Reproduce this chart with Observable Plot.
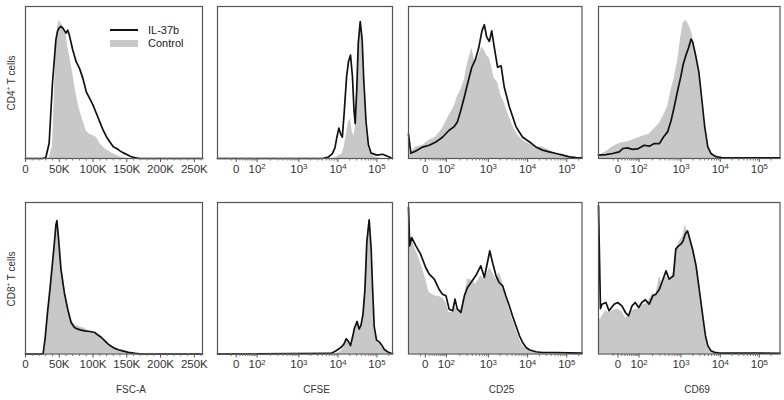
<!DOCTYPE html>
<html><head><meta charset="utf-8">
<script src="https://cdn.jsdelivr.net/npm/d3@7"></script>
<script src="https://cdn.jsdelivr.net/npm/@observablehq/plot@0.6"></script>
<style>
body{margin:0;background:#fff;}
#fig{position:relative;width:784px;height:400px;font-family:"Liberation Sans",Arial,sans-serif;color:#333;overflow:hidden;background:#fff}
.panel{position:absolute}
.lab{position:absolute;font-size:10px;white-space:nowrap;transform:translate(-50%,-50%);line-height:1}
.ylab{position:absolute;font-size:10px;white-space:nowrap;transform:translate(-50%,-50%) rotate(-90deg);line-height:1}
sup{font-size:6.5px;vertical-align:4px;line-height:0}
</style></head><body><div id="fig"></div>
<script>
// ---------- data (x in K for FSC-A, in display decades for fluorescence) ----------
const fscX4 = [0,25,30,35,40,45,47.5,50,52.5,55,60,62.5,65,70,75,80,85,90,95,100,105,110,115,120,125,130,135,140,145,150,155,160,165,170,262.144];
const fscIL4 = [0,0,0.5,10,50,78,84,86,87,86,82.5,84.5,81,71.4,63.7,59.3,52.7,43.9,39.5,35.1,29.6,24.1,18.6,14.2,10.9,7.7,6.6,5.0,3.7,2.6,1.5,0.7,0.2,0,0];
const fscCtrl4 = [0,0,0,0,8,71,86,91,89,87,82,74,68,56,42,32,25,18,16,15,14,10,7.5,5.5,4.5,3,2,1.2,0.5,0,0,0,0,0,0];

const fscX8 = [0,26,29,32.5,36.5,40,42.5,45,46.5,49,52.5,57.5,62.5,67.5,72.5,77.5,82.5,87.5,92.5,97.5,102.5,107.5,112.5,117.5,122.5,127.5,132.5,137.5,142.5,152.5,162.5,172.5,262.144];
const fscIL8 = [0,0,10,27,44,60.4,72,85,88,75.8,56,40.6,29.6,20.8,17.5,16.4,15.8,15.3,15,14.7,14.2,12.5,10.9,8.7,6.5,5,3.7,2.8,2.2,1.1,0.4,0,0];
const fscCtrl8 = [0,0,3,20,40,58,70,84,88,78,60,44,32,23,19.5,18.5,17.5,17,15.5,14.7,14,12.5,10.5,8.5,6.5,5,3.7,2.8,2,1,0.3,0,0];

const cfseX4 = [0.9,3.6,3.75,3.85,3.92,3.97,4.02,4.07,4.11,4.16,4.22,4.27,4.32,4.37,4.41,4.44,4.48,4.52,4.57,4.62,4.66,4.72,4.78,4.85,5.0,5.15,5.3,5.4];
const cfseIL4 = [0,0,1,3,7,14,20,16,14,31,54,64,68,54,32,23,45,76,90,78,52,24,9,3.5,2.2,2.8,1.2,0];
const cfseCtrl4 = [0,0,0,0,0.5,1,2,2.5,3.5,8,17,24,26,17,15,20,40,70,89,74,48,20,7,2.5,0.5,0,0,0];

const cfseX8 = [0.9,3.82,3.95,4.08,4.15,4.21,4.26,4.32,4.38,4.42,4.49,4.54,4.59,4.64,4.69,4.74,4.80,4.85,4.89,4.93,4.99,5.06,5.12,5.19,5.27,5.36,5.4];
const cfseIL8 = [0,0.4,2.2,4.4,6.5,10,8.5,5.5,12,17,21.5,16.5,19,26,42,74,88.6,70,42,18,9,8,6,3,1.5,0.5,0.3];
const cfseCtrl8 = [0,0,0,2,4,9,7,4.5,10,15,20,16,18,25,40,72,88,69,40,16,8,7,5,2,0.5,0,0];

const cd25X4 = [0.95,1.01,1.14,1.31,1.48,1.65,1.82,1.99,2.12,2.20,2.29,2.38,2.46,2.57,2.66,2.74,2.83,2.89,2.95,3.02,3.08,3.14,3.23,3.32,3.40,3.53,3.70,3.87,4.04,4.21,4.38,4.55,4.73,4.90,5.07,5.24,5.39];
const cd25IL4 = [16,3.5,5,7.5,8.7,10.9,14,18.6,21,24,31.8,40.6,49,60,65,72,84,88,80,77,84,74,60,61,47,34,21,14,11,7.6,5.5,4.4,3.3,2.2,1.1,0.6,0.5];
const cd25Ctrl4 = [3,4,7.6,8.7,12,14.2,19.7,28.5,34,40.6,45,51.6,62.6,72.5,62.6,67,73.6,71,68,66,60,53,50,41,37,27,17,12,9.4,7.6,7.6,5.5,3,2.2,1.2,0.5,0];

const cd25X8 = [0.95,0.98,1.03,1.14,1.26,1.39,1.48,1.61,1.73,1.82,1.91,1.99,2.08,2.14,2.20,2.29,2.38,2.46,2.55,2.67,2.80,2.89,2.97,3.03,3.10,3.19,3.27,3.36,3.44,3.53,3.61,3.70,3.79,3.87,3.96,4.04,4.21,4.38,4.73,5.07,5.39];
const cd25IL8 = [96.7,71.4,76.9,71.4,65.9,57.1,52.7,49.4,42.8,39.5,38.4,29.6,28.5,36.2,29.6,27.4,38.4,43.9,47.2,51.6,58.2,50.5,60.4,68.1,60.4,51.6,47.2,45,38.4,31.8,25.2,18.6,12,7.6,4.3,2.8,1.5,1,1,0.8,0.6];
const cd25Ctrl8 = [79,78,76,68,60.4,49.4,40.6,38.4,38,37,34,27.4,27.4,31.8,28.5,28.5,38.4,49.4,49,46,51.6,49.4,53.8,57,53.8,49.4,54,47.2,38.4,29.6,23,16.4,9.8,5.5,3.3,2.2,1.1,0.6,0.4,0.2,0];

const cd69X4 = [0.88,1.07,1.24,1.41,1.51,1.62,1.75,1.88,2.05,2.18,2.31,2.44,2.54,2.65,2.74,2.82,2.91,2.99,3.05,3.12,3.19,3.25,3.29,3.36,3.45,3.53,3.60,3.68,3.76,3.89,4.06,5.53];
const cd69IL4 = [2.2,2.6,3.3,4.4,6.6,7,6,6.3,8.7,8.1,9.8,9.8,14,17.5,25,34,45,54,62,68,73,78.5,77,69,57,38,21,7.6,3.3,1.2,0.5,0.5];
const cd69Ctrl4 = [2,4.4,7.6,9.8,10.5,11,12,13.5,15,16,19.5,23,28,34,45,52.7,64.8,80.2,89,91.2,88,84,81,69,56,34,18.6,7.6,3,1,0,0];

const cd69X8 = [0.88,0.93,0.97,1.07,1.15,1.28,1.37,1.48,1.57,1.65,1.74,1.82,1.91,1.99,2.08,2.18,2.27,2.35,2.44,2.52,2.61,2.69,2.80,2.86,2.93,2.99,3.05,3.10,3.16,3.22,3.29,3.38,3.46,3.55,3.62,3.68,3.76,3.85,3.98,5.53];
const cd69IL8 = [97.8,30,32.9,34,28.5,32.9,34,31.8,27.4,25.2,31.8,34,30.7,34,35.8,32.9,38.4,39.5,42.8,48.3,54.9,49.4,51.6,69.2,71.4,72.5,74.7,79.1,81.3,75.8,69.2,58.2,42.8,25.2,12.1,5.5,2.2,1.1,0.6,0.5];
const cd69Ctrl8 = [23,23,25,28.5,27,29,29.6,28,24,25,28.5,29.6,29.6,32,33,36,40,38.4,51.6,46,51.6,48,53.8,68,73,76,78,85.7,80,78,69.2,58.2,40.6,23,11,5,2,0.8,0.3,0];

// tick labels
const fscTicks = [0,50,100,150,200,250];
const fscMinor = d3.range(10,261,10).filter(v => v % 50 !== 0);
const logTicks = [0,100,1000,10000,100000];
const logLabels = ["0","10^2","10^3","10^4","10^5"];
const logMinor = [-10,10,20,30,40,50,60,70,80,90,
  200,300,400,500,600,700,800,900,2000,3000,4000,5000,6000,7000,8000,9000,
  20000,30000,40000,50000,60000,70000,80000,90000,200000];
const rowLabels = ["CD4", "CD8"];
const colLabels = ["FSC-A","CFSE","CD25","CD69"];
const seriesNames = ["IL-37b","Control"];

// biexponential-like display transform (decades): linear near zero, log above
const biex = v => Math.log10(Math.max(0.59 * v + 24, v - 17));

// ---------- layout ----------
const cols = [
  {left:24.5, right:201.5, domain:[0,262.144]},
  {left:216.5, right:391.5, domain:[0.9,5.4]},
  {left:407.5, right:581, domain:[0.95,5.39]},
  {left:597.5, right:779, domain:[0.88,5.53]}
];
const rows = [{top:6, bottom:158}, {top:201.5, bottom:353}];
const panels = [
  {r:0,c:0,xs:fscX4,il:fscIL4,ctrl:fscCtrl4},
  {r:0,c:1,xs:cfseX4,il:cfseIL4,ctrl:cfseCtrl4},
  {r:0,c:2,xs:cd25X4,il:cd25IL4,ctrl:cd25Ctrl4},
  {r:0,c:3,xs:cd69X4,il:cd69IL4,ctrl:cd69Ctrl4},
  {r:1,c:0,xs:fscX8,il:fscIL8,ctrl:fscCtrl8},
  {r:1,c:1,xs:cfseX8,il:cfseIL8,ctrl:cfseCtrl8},
  {r:1,c:2,xs:cd25X8,il:cd25IL8,ctrl:cd25Ctrl8},
  {r:1,c:3,xs:cd69X8,il:cd69IL8,ctrl:cd69Ctrl8}
];

const fig = document.getElementById("fig");
const GREY = "#c8c8c8";
const mL = 16, mR = 16, mT = 3, mB = 24;

for (const p of panels) {
  const c = cols[p.c], r = rows[p.r];
  const w = c.right - c.left, h = r.bottom - r.top;
  const data = p.xs.map((x, i) => ({x, il: p.il[i], ctrl: p.ctrl[i]}));
  const fsc = p.c === 0;
  const major = fsc ? fscTicks : logTicks.map(biex);
  const minor = fsc ? fscMinor : logMinor.map(biex);
  const labMap = new Map(major.map((v, i) => [v, fsc ? (fscTicks[i] === 0 ? "0" : fscTicks[i] + "K") : logLabels[i]]));
  const svg = Plot.plot({
    width: w + mL + mR, height: h + mT + mB,
    marginLeft: mL, marginRight: mR, marginTop: mT, marginBottom: mB,
    x: {domain: c.domain, axis: null},
    y: {domain: [0, 100], axis: null},
    style: {background: "transparent", overflow: "visible", fontFamily: "'Liberation Sans', Arial, sans-serif", fontSize: "11.5px", color: "#333"},
    marks: [
      Plot.areaY(data, {x: "x", y: "ctrl", fill: GREY}),
      Plot.lineY(data, {x: "x", y: "il", stroke: "#111", strokeWidth: 1.7}),
      Plot.frame({stroke: "#555", strokeWidth: 1.2}),
      Plot.axisX({ticks: minor, tickSize: 2.5, tickFormat: () => "", stroke: "#777", label: null}),
      Plot.axisX({ticks: major, tickSize: 4, tickPadding: 2, tickFormat: v => labMap.get(v), stroke: "#555", label: null})
    ]
  });
  // superscript exponents
  svg.querySelectorAll('g[aria-label="x-axis tick label"] text').forEach(t => {
    const m = t.textContent.match(/^10\^(\d)$/);
    if (m) {
      t.textContent = "10";
      const ts = document.createElementNS("http://www.w3.org/2000/svg", "tspan");
      ts.setAttribute("dy", "-0.45em");
      ts.setAttribute("font-size", "0.68em");
      ts.textContent = m[1];
      t.appendChild(ts);
    }
  });
  const div = document.createElement("div");
  div.className = "panel";
  div.style.left = (c.left - mL) + "px";
  div.style.top = (r.top - mT) + "px";
  div.style.width = (w + mL + mR) + "px";
  div.appendChild(svg);
  fig.appendChild(div);
}

// row labels
const rowCenters = [82.5, 279];
rowLabels.forEach((lab, i) => {
  const d = document.createElement("div");
  d.className = "ylab";
  d.style.left = "11.5px";
  d.style.top = rowCenters[i] + "px";
  d.innerHTML = lab + "<sup>+</sup> T cells";
  fig.appendChild(d);
});
// column labels
const colCenters = [131, 316.5, 501.5, 697];
colLabels.forEach((lab, i) => {
  const d = document.createElement("div");
  d.className = "lab";
  d.style.left = colCenters[i] + "px";
  d.style.top = "390px";
  d.textContent = lab;
  fig.appendChild(d);
});
// legend
const lg = document.createElement("div");
lg.innerHTML =
  `<div style="position:absolute;left:110px;top:29px;width:28px;height:2px;background:#111"></div>` +
  `<div style="position:absolute;left:110px;top:39.5px;width:28px;height:7px;background:${GREY}"></div>` +
  `<div style="position:absolute;left:148px;top:30px;font-size:11px;transform:translateY(-50%);line-height:1;color:#222">${seriesNames[0]}</div>` +
  `<div style="position:absolute;left:148px;top:43px;font-size:11px;transform:translateY(-50%);line-height:1;color:#222">${seriesNames[1]}</div>`;
fig.appendChild(lg);
</script></body></html>
